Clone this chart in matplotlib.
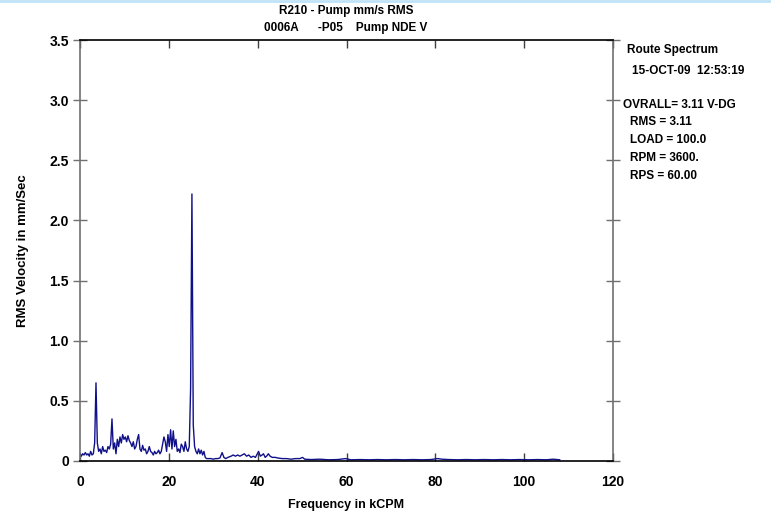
import matplotlib
matplotlib.use("Agg")
from matplotlib import pyplot as plt
from matplotlib.lines import Line2D

plt.rcParams['font.family'] = ['Liberation Sans', 'DejaVu Sans']
plt.rcParams['font.weight'] = 'bold'

# spectrum: frequency (kCPM) and RMS velocity (mm/s)
freq = [0.0, 0.3, 0.6, 0.9, 1.2, 1.5, 1.8, 2.1, 2.4, 2.7, 3.0, 3.3, 3.6, 3.9, 4.2,
        4.5, 4.8, 5.1, 5.4, 5.7, 6.0, 6.3, 6.6, 6.9, 7.2, 7.5, 7.8, 8.1, 8.4, 8.7,
        9.0, 9.3, 9.6, 9.9, 10.2, 10.5, 10.8, 11.1, 11.4, 11.7, 12.0, 12.3, 12.6, 12.9,
        13.2, 13.5, 13.8, 14.1, 14.4, 14.7, 15.0, 15.3, 15.6, 15.9, 16.2, 16.5, 16.8,
        17.1, 17.4, 17.7, 18.0, 18.3, 18.6, 18.9, 19.2, 19.5, 19.8, 20.1, 20.4, 20.7,
        21.0, 21.3, 21.6, 21.9, 22.2, 22.5, 22.8, 23.1, 23.4, 23.7, 24.0, 24.3, 24.6,
        24.9, 25.2, 25.5, 25.8, 26.1, 26.4, 26.7, 27.0, 27.3, 27.6, 27.9, 28.2, 28.5,
        29.0, 29.5, 30.0, 30.5, 31.0, 31.5, 32.0, 32.4, 32.8, 33.3, 34.0, 34.5, 35.0,
        35.5, 36.0, 36.5, 37.0, 37.5, 38.0, 38.5, 39.0, 39.5, 40.2, 40.6, 41.0, 41.3,
        41.7, 42.0, 42.4, 42.8, 43.3, 44.0, 44.5, 45.5, 46.5, 47.5, 48.5, 49.5, 50.1,
        50.6, 52.0, 54.0, 56.0, 58.0, 59.8, 61.0, 63.0, 65.0, 67.0, 69.0, 71.0, 73.0,
        75.0, 77.0, 79.0, 80.5, 81.5, 83.0, 85.0, 87.0, 89.0, 91.0, 93.0, 95.0, 97.0,
        99.0, 101.0, 103.0, 105.0, 106.5, 108.0]
rms = [0.06, 0.04, 0.06, 0.05, 0.07, 0.05, 0.06, 0.04, 0.08, 0.05, 0.06, 0.15, 0.65, 0.15, 0.08,
       0.10, 0.06, 0.12, 0.08, 0.09, 0.07, 0.12, 0.10, 0.14, 0.35, 0.10, 0.15, 0.06, 0.18, 0.12,
       0.20, 0.15, 0.22, 0.18, 0.20, 0.16, 0.21, 0.17, 0.15, 0.12, 0.16, 0.10, 0.12, 0.18,
       0.22, 0.10, 0.08, 0.13, 0.09, 0.10, 0.06, 0.08, 0.12, 0.08, 0.07, 0.05, 0.08,
       0.06, 0.07, 0.09, 0.06, 0.08, 0.14, 0.20, 0.16, 0.08, 0.22, 0.12, 0.26, 0.10,
       0.25, 0.12, 0.18, 0.08, 0.10, 0.07, 0.14, 0.12, 0.08, 0.16, 0.10, 0.08, 0.12,
       0.60, 2.22, 0.30, 0.12, 0.08, 0.06, 0.10, 0.06, 0.09, 0.05, 0.08, 0.03, 0.02,
       0.02, 0.02, 0.015, 0.02, 0.02, 0.025, 0.07, 0.03, 0.02, 0.03, 0.04, 0.05, 0.04,
       0.05, 0.04, 0.05, 0.06, 0.04, 0.05, 0.03, 0.04, 0.03, 0.08, 0.04, 0.05, 0.06,
       0.03, 0.04, 0.06, 0.04, 0.03, 0.03, 0.025, 0.02, 0.02, 0.015, 0.02, 0.02, 0.03,
       0.015, 0.012, 0.015, 0.01, 0.012, 0.02, 0.01, 0.012, 0.01, 0.012, 0.01, 0.012, 0.01,
       0.012, 0.01, 0.012, 0.02, 0.015, 0.012, 0.01, 0.012, 0.01, 0.012, 0.01, 0.012, 0.01,
       0.012, 0.01, 0.012, 0.01, 0.015, 0.01]

x_ticks = [0, 20, 40, 60, 80, 100, 120]
y_ticks = [0, 0.5, 1.0, 1.5, 2.0, 2.5, 3.0, 3.5]
y_tick_labels = ['0', '0.5', '1.0', '1.5', '2.0', '2.5', '3.0', '3.5']

title_lines = ['R210 - Pump mm/s RMS', '0006A      -P05    Pump NDE V']
side_text = [
    ('Route Spectrum', 627, 50),
    ('15-OCT-09  12:53:19', 632, 71),
    ('OVRALL= 3.11 V-DG', 623, 105),
    ('RMS = 3.11', 630, 122),
    ('LOAD = 100.0', 630, 140),
    ('RPM = 3600.', 630, 158),
    ('RPS = 60.00', 630, 176),
]

W, H = 771, 513
fig = plt.figure(figsize=(W / 100, H / 100), dpi=100)
ax = fig.add_axes([80 / W, 1 - 461 / H, 533 / W, 421 / H])

ax.plot(freq, rms, color='#10108a', linewidth=1.0)

ax.set_xlim(0, 120)
ax.set_ylim(0, 3.5)
ax.set_xticks(x_ticks)
ax.set_yticks(y_ticks)
ax.set_yticklabels(y_tick_labels)

for side in ('left', 'right'):
    ax.spines[side].set_color('#707070')
    ax.spines[side].set_linewidth(1.2)
for side in ('top', 'bottom'):
    ax.spines[side].set_color('black')
    ax.spines[side].set_linewidth(1.2)

ax.tick_params(axis='x', direction='in', length=6, top=True, width=1, color='#404040',
               labelsize=10, pad=10)
ax.tick_params(axis='y', direction='inout', length=10, right=True, width=1, color='#707070',
               labelsize=10, pad=3)
for lab in ax.get_xticklabels() + ax.get_yticklabels():
    lab.set_fontweight('bold')

ax.set_xlabel('Frequency in kCPM', fontsize=9, fontweight='bold', labelpad=7)
ax.set_ylabel('RMS Velocity in mm/Sec', fontsize=9.5, fontweight='bold', labelpad=15)

fig.text(346 / W, 1 - 11 / H, title_lines[0], ha='center', va='center',
         fontsize=8.5, fontweight='bold')
fig.text(346 / W, 1 - 28 / H, title_lines[1], ha='center', va='center',
         fontsize=8.5, fontweight='bold')

for txt, px, py in side_text:
    fig.text(px / W, 1 - py / H, txt, ha='left', va='center', fontsize=8.5, fontweight='bold')

# thin light blue border line at the top of the picture
fig.add_artist(Line2D([0, 1], [1 - 1 / H, 1 - 1 / H], transform=fig.transFigure,
                      color='#bfe3f5', linewidth=2))

fig.savefig('out.png', dpi=100)
plt.close(fig)
